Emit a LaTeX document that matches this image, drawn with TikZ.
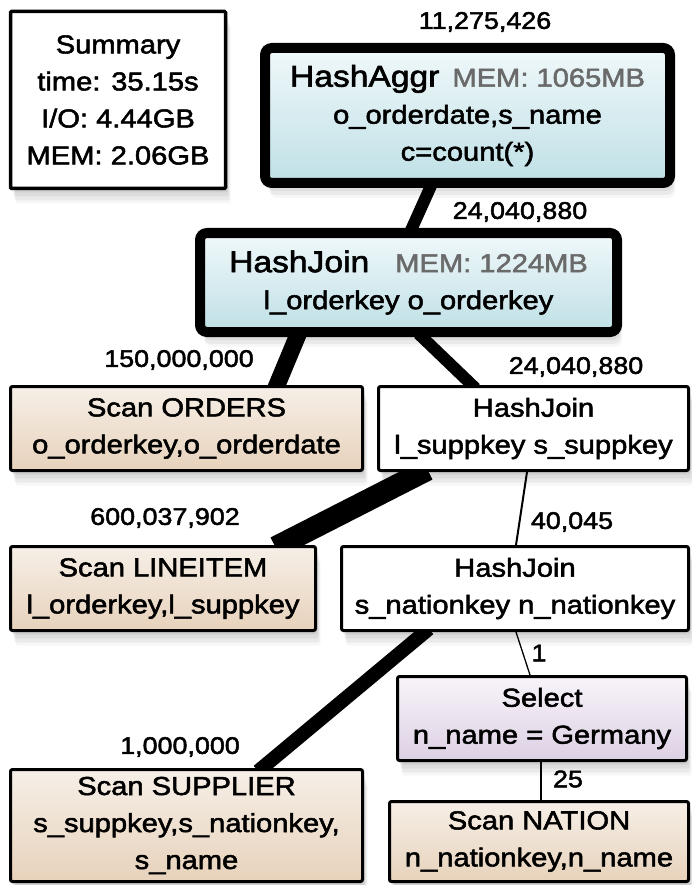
\documentclass[tikz,border=0pt]{standalone}
\usepackage{fontspec}
\setmainfont{Liberation Sans}[FakeStretch=1.12,FakeBold=2]
\usetikzlibrary{shadows,backgrounds}

\definecolor{aggtop}{HTML}{F0F8FA}
\definecolor{aggbot}{HTML}{BFE0E6}
\definecolor{scantop}{HTML}{F6EFE7}
\definecolor{scanbot}{HTML}{E7D2BB}
\definecolor{seltop}{HTML}{F8F4F9}
\definecolor{selbot}{HTML}{DDD0E4}
\definecolor{memgray}{HTML}{6A6A6A}

\begin{document}
\begin{tikzpicture}[x=1pt,y=-1pt,
  softshadow/.style={
    general shadow={shadow xshift=2pt,shadow yshift=-4pt,opacity=0.06,fill=black},
    general shadow={shadow xshift=3pt,shadow yshift=-8pt,opacity=0.06,fill=black},
    general shadow={shadow xshift=4pt,shadow yshift=-12pt,opacity=0.05,fill=black},
    general shadow={shadow xshift=5pt,shadow yshift=-15pt,opacity=0.03,fill=black}},
  opbox/.style={draw=black,line width=3pt,rounded corners=2pt,align=center,
    inner sep=0pt,font=\fontsize{26}{37}\selectfont,softshadow},
  bigbox/.style={opbox,line width=10pt,rounded corners=7pt,
    top color=aggtop,bottom color=aggbot},
  scanbox/.style={opbox,top color=scantop,bottom color=scanbot},
  selbox/.style={opbox,top color=seltop,bottom color=selbot},
  plainbox/.style={opbox,fill=white},
  count/.style={font=\fontsize{24}{28}\selectfont,inner sep=0pt},
  flow/.style={draw=black,line cap=butt,shorten <=-5pt,shorten >=-5pt},
]
\useasboundingbox (0,0) rectangle (692,885);

% operator boxes
\node[plainbox,line width=3.5pt,rounded corners=1pt,
      minimum width=215pt,minimum height=177pt] (summary) at (118,100)
  {Summary\\time: 35.15s\\I/O: 4.44GB\\MEM: 2.06GB};

\node[bigbox,minimum width=405pt,minimum height=135pt] (agg) at (467.5,115.5)
  {{\fontsize{30}{37}\selectfont HashAggr}\hspace{13pt}{\color{memgray}MEM: 1065MB}\\
   o\_orderdate,s\_name\\c=count(*)};

\node[bigbox,minimum width=417pt,minimum height=99pt] (hj1) at (408.5,282.5)
  {{\fontsize{30}{37}\selectfont HashJoin}\hspace{26pt}{\color{memgray}MEM: 1224MB}\\
   l\_orderkey o\_orderkey};

\node[scanbox,minimum width=352pt,minimum height=84pt] (orders) at (186.5,428.5)
  {Scan ORDERS\\o\_orderkey,o\_orderdate};

\node[plainbox,minimum width=310pt,minimum height=84pt] (hj2) at (533.5,428.5)
  {HashJoin\\l\_suppkey s\_suppkey};

\node[scanbox,minimum width=305pt,minimum height=84pt] (lineitem) at (163,588.5)
  {Scan LINEITEM\\l\_orderkey,l\_suppkey};

\node[plainbox,minimum width=347pt,minimum height=84pt] (hj3) at (515,588.5)
  {HashJoin\\s\_nationkey n\_nationkey};

\node[selbox,minimum width=289pt,minimum height=84pt] (sel) at (542,718.5)
  {Select\\n\_name = Germany};

\node[scanbox,minimum width=352pt,minimum height=112pt] (supplier) at (186.5,825.5)
  {Scan SUPPLIER\\s\_suppkey,s\_nationkey,\\s\_name};

\node[scanbox,minimum width=299pt,minimum height=80pt] (nation) at (539,841.5)
  {Scan NATION\\n\_nationkey,n\_name};

% row counts
\node[count] (c-agg) at (485,22) {11,275,426};
\node[count] (c-hj1) at (520,212) {24,040,880};
\node[count] (c-orders) at (179,360) {150,000,000};
\node[count] (c-hj2) at (576,367) {24,040,880};
\node[count] (c-lineitem) at (165,518) {600,037,902};
\node[count] (c-hj3) at (572,522) {40,045};
\node[count] (c-supplier) at (180,747) {1,000,000};
\node[count] (c-sel) at (539,653) {1};
\node[count] (c-nation) at (568,779) {25};

% data flow, width by row count
\begin{scope}[on background layer]
  \draw[flow,line width=12pt] ([xshift=-37.5pt]agg.south) -- ([xshift=3.5pt]hj1.north);
  \draw[flow,line width=17pt] ([xshift=-111.5pt]hj1.south) -- ([xshift=90.5pt]orders.north);
  \draw[flow,line width=12pt] ([xshift=13.5pt]hj1.south) -- ([xshift=-61.5pt]hj2.north);
  \draw[flow,line width=22pt] ([xshift=-110.5pt]hj2.south) -- ([xshift=117pt]lineitem.north);
  \draw[flow,line width=2pt] ([xshift=-6.5pt]hj2.south) -- ([xshift=1pt]hj3.north);
  \draw[flow,line width=14pt] ([xshift=-90pt]hj3.south) -- ([xshift=75.5pt]supplier.north);
  \draw[flow,line width=1.3pt] ([xshift=1pt]hj3.south) -- ([xshift=-12pt]sel.north);
  \draw[flow,line width=1.3pt] ([xshift=-1pt]sel.south) -- ([xshift=2pt]nation.north);
\end{scope}
\end{tikzpicture}
\end{document}
